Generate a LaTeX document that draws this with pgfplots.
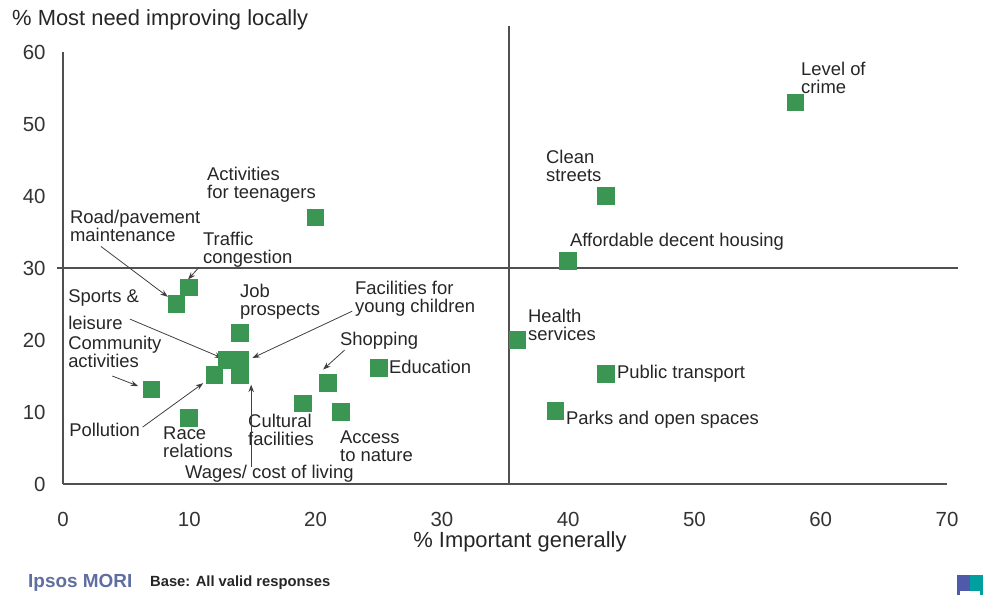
\documentclass[border=0pt]{standalone}
\usepackage{fontspec}
\setmainfont{Liberation Sans}
\usepackage{pgfplots}
\pgfplotsset{compat=1.18}
\usetikzlibrary{arrows.meta}
\definecolor{mk}{RGB}{58,150,82}
\definecolor{ln}{RGB}{80,80,80}
\definecolor{ipsos}{RGB}{95,110,160}
\definecolor{icb}{RGB}{80,90,170}
\definecolor{ict}{RGB}{0,160,160}
\tikzset{
  lbl/.style={font=\fontsize{18.5}{18}\selectfont, inner sep=0pt, anchor=west, align=left, text=black!85},
  arr/.style={draw=black!75, line width=0.8bp, -{Stealth[length=7.5bp,width=5.5bp]}},
}
\begin{document}
\begin{tikzpicture}[x=1bp,y=1bp]
\path[use as bounding box] (0,0) rectangle (983,599);
\begin{axis}[
  at={(63bp,115bp)}, anchor=south west,
  scale only axis, width=884bp, height=432bp,
  xmin=0, xmax=70, ymin=0, ymax=60,
  axis x line=bottom, axis y line=left,
  axis line style={ln, line width=1.5bp, -},
  xtick={0,10,...,70}, ytick={0,10,...,60},
  major tick length=0pt,
  tick label style={font=\fontsize{20.5}{22}\selectfont, text=black!80},
  /pgf/number format/assume math mode=true,
  xticklabel style={yshift=-25bp},
  yticklabel style={xshift=-14bp},
  clip=false,
]
% quadrant lines
\draw[ln, line width=1.5bp] (axis cs:35.3,0) -- (axis cs:35.3,63.6);
\draw[ln, line width=1.5bp] (axis cs:-0.5,30) -- (axis cs:70.9,30);

\addplot[mk, only marks, mark=square*, mark size=8.3bp, mark options={draw=mk, fill=mk, line width=0pt}] coordinates {
 (58,53) (43,40) (40,31) (20,37) (9,25) (10,27.3) (14,21) (36,20)
 (13,17.2) (14,17.2) (7,13.1) (12,15.1) (10,9.2) (14,15.1) (19,11.2)
 (21,14) (22,10) (25,16.1) (43,15.3) (39,10.1)
};

\node[lbl] at (axis cs:58.43,56.39) {Level of\\crime};
\node[lbl] at (axis cs:38.24,44.17) {Clean\\streets};
\node[lbl] at (axis cs:40.14,33.61) {Affordable decent housing};
\node[lbl] at (axis cs:11.40,41.53) {Activities\\for teenagers};
\node[lbl] at (axis cs:0.55,35.83) {Road/pavement\\maintenance};
\node[lbl] at (axis cs:11.08,32.5) {Traffic\\congestion};
\node[lbl] at (axis cs:14.01,25.28) {Job\\prospects};
\node[lbl] at (axis cs:23.12,25.69) {Facilities for\\young children};
\node[lbl] at (axis cs:0.40,25.83) {Sports \&};
\node[lbl] at (axis cs:0.40,22.36) {leisure};
\node[lbl] at (axis cs:0.40,18.33) {Community\\activities};
\node[lbl] at (axis cs:36.82,22.08) {Health\\services};
\node[lbl] at (axis cs:21.93,19.86) {Shopping};
\node[lbl] at (axis cs:25.81,16.25) {Education};
\node[lbl] at (axis cs:43.86,15.28) {Public transport};
\node[lbl] at (axis cs:39.83,8.89) {Parks and open spaces};
\node[lbl] at (axis cs:0.48,7.5) {Pollution};
\node[lbl] at (axis cs:7.92,5.83) {Race\\relations};
\node[lbl] at (axis cs:14.65,7.5) {Cultural\\facilities};
\node[lbl] at (axis cs:21.93,5.28) {Access\\to nature};
\node[lbl] at (axis cs:9.66,1.39) {Wages/ cost of living};

\draw[arr] (axis cs:3.0,33.0) -- (axis cs:8.3,26.0);
\draw[arr] (axis cs:10.77,30.1) -- (axis cs:9.9,28.4);
\draw[arr] (axis cs:5.3,22.9) -- (axis cs:12.6,17.5);
\draw[arr] (axis cs:22.9,24.0) -- (axis cs:15.0,17.5);
\draw[arr] (axis cs:3.9,15.0) -- (axis cs:5.95,13.6);
\draw[arr] (axis cs:6.3,7.9) -- (axis cs:11.1,14.0);
\draw[arr] (axis cs:14.9,2.4) -- (axis cs:14.9,13.8);
\draw[arr] (axis cs:22.3,18.6) -- (axis cs:20.6,15.9);
\end{axis}
% title and axis label
\node[anchor=west, inner sep=0pt, font=\fontsize{22}{24}\selectfont, text=black!85] at (12,579) {\% Most need improving locally};
\node[inner sep=0pt, font=\fontsize{22}{24}\selectfont, text=black!85] at (520,57) {\% Important generally};
% footer
\node[anchor=west, inner sep=0pt, font=\bfseries\fontsize{19}{20}\selectfont, text=ipsos] at (28,16) {Ipsos MORI};
\node[anchor=west, inner sep=0pt, font=\bfseries\fontsize{14.8}{16}\selectfont, text=black!85] at (150,16) {Base: All valid responses};
\fill[icb] (957,4) rectangle (970,24);
\fill[ict] (970,4) rectangle (983,24);
\fill[white] (960,4) rectangle (980,8);
\end{tikzpicture}
\end{document}
